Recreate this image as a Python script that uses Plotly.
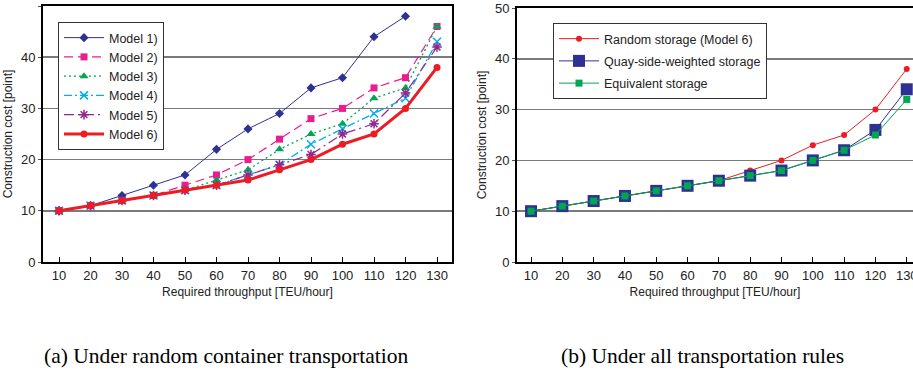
import plotly.graph_objects as go

# ---------------- data ----------------
throughput = [10, 20, 30, 40, 50, 60, 70, 80, 90, 100, 110, 120, 130]

model1 = [10, 11, 13, 15, 17, 22, 26, 29, 34, 36, 44, 48, None]
model2 = [10, 11, 12, 13, 15, 17, 20, 24, 28, 30, 34, 36, 46]
model3 = [10, 11, 12, 13, 14, 16, 18, 22, 25, 27, 32, 34, 46]
model4 = [10, 11, 12, 13, 14, 15, 17, 19, 23, 26, 29, 32, 43]
model5 = [10, 11, 12, 13, 14, 15, 17, 19, 21, 25, 27, 33, 42]
model6 = [10, 11, 12, 13, 14, 15, 16, 18, 20, 23, 25, 30, 38]

random_storage = [10, 11, 12, 13, 14, 15, 16, 18, 20, 23, 25, 30, 38]
quay_storage = [10, 11, 12, 13, 14, 15, 16, 17, 18, 20, 22, 26, 34]
equiv_storage = [10, 11, 12, 13, 14, 15, 16, 17, 18, 20, 22, 25, 32]

y_ticks = [0, 10, 20, 30, 40, 50]

left_names = ["Model 1)", "Model 2)", "Model 3)", "Model 4)", "Model 5)", "Model 6)"]
right_names = ["Random storage (Model 6)", "Quay-side-weighted storage", "Equivalent storage"]

x_title = "Required throughput [TEU/hour]"
y_title = "Construction cost [point]"
caption_a = "(a) Under random container transportation"
caption_b = "(b) Under all transportation rules"

# ---------------- styles ----------------
NAVY = "#2e3192"
PINK = "#ec1c8c"
GREEN = "#00a651"
CYAN = "#00aeef"
PURPLE = "#92278f"
RED = "#ed1c24"

FONT = "Liberation Sans, Arial, Helvetica, sans-serif"
SERIF = "Liberation Serif, Times New Roman, Times, serif"

fig = go.Figure()

left_styles = [
    (model1, NAVY, "solid", 1, "diamond", 7),
    (model2, PINK, "9px,5px", 1.2, "square", 7),
    (model3, GREEN, "2px,3px", 1.3, "triangle-up", 8),
    (model4, CYAN, "8px,3px,2px,3px", 1.3, "x-thin-open", 8),
    (model5, PURPLE, "10px,4px,2px,4px", 1.2, "asterisk-open", 8),
    (model6, RED, "solid", 3, "circle", 7),
]

for name, (vals, col, dash, lw, sym, ms) in zip(left_names, left_styles):
    marker = dict(symbol=sym, size=ms, color=col)
    if sym.endswith("-open"):
        marker["line"] = dict(color=col, width=1.5)
    fig.add_trace(go.Scatter(
        x=throughput, y=vals, name=name, mode="lines+markers",
        line=dict(color=col, width=lw, dash=dash),
        marker=marker, xaxis="x", yaxis="y", legend="legend",
        connectgaps=False,
    ))

right_styles = [
    (random_storage, RED, "circle", 6),
    (quay_storage, NAVY, "square", 12),
    (equiv_storage, GREEN, "square", 7),
]
for i, (name, (vals, col, sym, ms)) in enumerate(zip(right_names, right_styles)):
    fig.add_trace(go.Scatter(
        x=throughput, y=vals, name=name, mode="lines+markers",
        line=dict(color=col, width=1),
        marker=dict(symbol=sym, size=ms, color=col),
        xaxis="x2", yaxis="y2", legend="legend2", legendgroup="g%d" % i,
    ))

W, H = 913, 374

def px_x(p):
    return p / W

def px_y(p):
    return (H - p) / H

common_x = dict(
    tickmode="array", tickvals=throughput, ticktext=[str(v) for v in throughput],
    ticks="inside", ticklen=5, tickwidth=1, tickcolor="black",
    showline=True, linecolor="black", linewidth=2, mirror=True,
    showgrid=False, zeroline=False, automargin=False,
    ticklabeloverflow="allow",
    tickfont=dict(family=FONT, size=13, color="#222"),
    title=dict(text=x_title, font=dict(family=FONT, size=12, color="#222"), standoff=6),
)
common_y = dict(
    range=[0, 50], tickmode="array", tickvals=y_ticks,
    ticks="outside", ticklen=3, tickwidth=1, tickcolor="#555",
    showline=True, linecolor="black", linewidth=2, mirror=True,
    showgrid=True, gridcolor="#7a7a7a", gridwidth=1.5, zeroline=False,
    automargin=False,
    tickfont=dict(family=FONT, size=13, color="#222"),
    title=dict(text=y_title, font=dict(family=FONT, size=12, color="#222"), standoff=6),
)

fig.update_layout(
    width=W, height=H,
    margin=dict(l=0, r=0, t=0, b=0, autoexpand=False),
    paper_bgcolor="white", plot_bgcolor="white",
    showlegend=True,
    hovermode=False,
    xaxis=dict(domain=[px_x(43), px_x(452)], range=[4.92, 134.76], anchor="y", **common_x),
    yaxis=dict(domain=[px_y(262), px_y(6)], anchor="x", **common_y),
    xaxis2=dict(domain=[px_x(517), 1.0], range=[5.52, 132.0], anchor="y2", **common_x),
    yaxis2=dict(domain=[px_y(262), px_y(8)], anchor="x2", **common_y),
    legend=dict(
        x=px_x(58), y=px_y(22), xanchor="left", yanchor="top",
        bgcolor="white", bordercolor="#333", borderwidth=1,
        font=dict(family=FONT, size=12.5, color="#222"),
        itemwidth=40, tracegroupgap=0,
    ),
    legend2=dict(
        x=px_x(553), y=px_y(23), xanchor="left", yanchor="top",
        bgcolor="white", bordercolor="#333", borderwidth=1,
        font=dict(family=FONT, size=12.5, color="#222"),
        itemwidth=40, tracegroupgap=3, traceorder="grouped",
    ),
    annotations=[
        dict(text=caption_a, x=px_x(226), y=px_y(356), xref="paper", yref="paper",
             xanchor="center", yanchor="middle", showarrow=False,
             font=dict(family=SERIF, size=21.5, color="black")),
        dict(text=caption_b, x=px_x(702), y=px_y(356), xref="paper", yref="paper",
             xanchor="center", yanchor="middle", showarrow=False,
             font=dict(family=SERIF, size=21.5, color="black")),
    ],
)

fig.write_html(
    "out.html",
    config={"displayModeBar": False, "staticPlot": True},
    post_script="document.body.style.margin='0px';document.body.style.overflow='hidden';",
)
